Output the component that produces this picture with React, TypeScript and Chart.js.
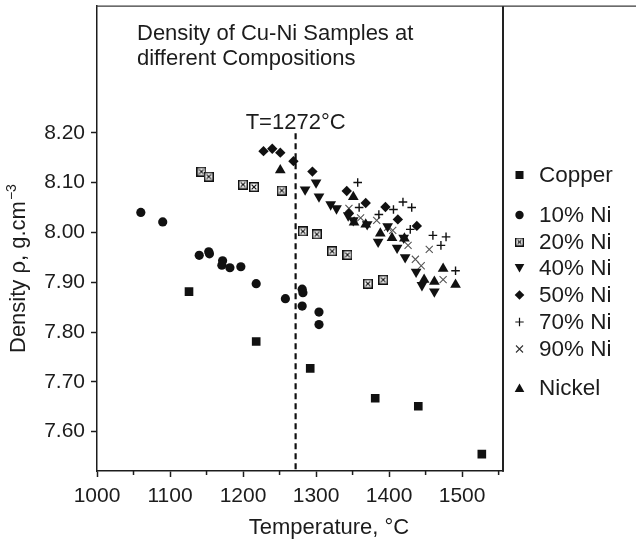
import React, { useEffect, useRef } from 'react';
import { Chart, registerables } from 'chart.js';

Chart.register(...registerables);

const FONT = '"Liberation Sans", Arial, Helvetica, sans-serif';
const INK = '#1c1c1c';

// ---- data (temperature °C, density g/cm3) ----
const copperT = [1126, 1218, 1292, 1381, 1440, 1527];
const copperRho = [7.881, 7.781, 7.727, 7.667, 7.651, 7.555];

const ni10T = [1060, 1090, 1140, 1153, 1154, 1172, 1171, 1182, 1197, 1218, 1258, 1281, 1282, 1281, 1304, 1304];
const ni10Rho = [8.040, 8.021, 7.954, 7.961, 7.957, 7.943, 7.934, 7.929, 7.931, 7.897, 7.867, 7.886, 7.879, 7.852, 7.840, 7.815];

const ni20T = [1143, 1153, 1200, 1215, 1253, 1282, 1301, 1322, 1343, 1371, 1392];
const ni20Rho = [8.122, 8.112, 8.096, 8.091, 8.084, 8.002, 7.996, 7.962, 7.955, 7.897, 7.905];

const ni40T = [1285, 1300, 1304, 1320, 1328, 1344, 1351, 1370, 1385, 1398, 1411, 1420, 1422, 1437, 1445, 1462];
const ni40Rho = [8.086, 8.100, 8.072, 8.056, 8.048, 8.034, 8.024, 8.016, 7.981, 8.012, 7.969, 7.989, 7.950, 7.921, 7.894, 7.881];

const ni50T = [1228, 1240, 1251, 1269, 1295, 1342, 1345, 1368, 1395, 1412, 1438];
const ni50Rho = [8.163, 8.168, 8.160, 8.143, 8.122, 8.083, 8.038, 8.059, 8.051, 8.026, 8.013];

const ni70T = [1357, 1359, 1386, 1406, 1419, 1431, 1429, 1460, 1478, 1471, 1491];
const ni70Rho = [8.100, 8.050, 8.036, 8.046, 8.061, 8.050, 8.006, 7.994, 7.991, 7.974, 7.923];

const ni90T = [1345, 1361, 1383, 1398, 1405, 1426, 1436, 1444, 1455, 1474];
const ni90Rho = [8.048, 8.029, 8.024, 8.010, 8.004, 7.974, 7.946, 7.933, 7.966, 7.905];

const nickelT = [1251, 1351, 1352, 1368, 1388, 1404, 1421, 1448, 1462, 1474, 1491];
const nickelRho = [8.125, 8.071, 8.020, 8.016, 7.998, 7.989, 7.988, 7.905, 7.901, 7.927, 7.895];

const seriesLabels = ['Copper', '10% Ni', '20% Ni', '40% Ni', '50% Ni', '70% Ni', '90% Ni', 'Nickel'];

const xTickValues = [1000, 1050, 1100, 1150, 1200, 1250, 1300, 1350, 1400, 1450, 1500, 1550];
const yTickValues = [7.6, 7.7, 7.8, 7.9, 8.0, 8.1, 8.2];
const X_MIN = 1000;
const X_MAX = 1556;
const Y_MIN = 7.521;
const Y_MAX = 8.454;
const transitionT = 1272;
const transitionLabel = 'T=1272°C';
const titleLines = ['Density of Cu-Ni Samples at', 'different Compositions'];
const xTitle = 'Temperature, °C';
const yTitleMain = 'Density ρ, g.cm';
const yTitleSup = '−3';

const pts = (xs: number[], ys: number[]) => xs.map((x, i) => ({ x, y: ys[i] }));

function makeBoxX(size: number, lw: number): HTMLCanvasElement {
  const c = document.createElement('canvas');
  c.width = size;
  c.height = size;
  const g = c.getContext('2d')!;
  g.fillStyle = '#fff';
  g.fillRect(0, 0, size, size);
  g.strokeStyle = '#111';
  g.lineWidth = lw;
  g.strokeRect(lw / 2, lw / 2, size - lw, size - lw);
  g.lineWidth = 1.2;
  g.beginPath();
  g.moveTo(2.6, 2.6);
  g.lineTo(size - 2.6, size - 2.6);
  g.moveTo(size - 2.6, 2.6);
  g.lineTo(2.6, size - 2.6);
  g.stroke();
  return c;
}

type Kind = 'square' | 'circle' | 'boxx' | 'tdown' | 'diamond' | 'plus' | 'x' | 'tup';
const legendKinds: Kind[] = ['square', 'circle', 'boxx', 'tdown', 'diamond', 'plus', 'x', 'tup'];
const legendRows = [175, 215, 242, 268, 295, 322, 349, 388];

function drawMarker(ctx: CanvasRenderingContext2D, kind: Kind, x: number, y: number, box: HTMLCanvasElement) {
  ctx.save();
  ctx.fillStyle = '#111';
  ctx.strokeStyle = '#111';
  ctx.beginPath();
  switch (kind) {
    case 'square':
      ctx.fillRect(x - 4, y - 4, 8, 8);
      break;
    case 'circle':
      ctx.arc(x, y, 4.2, 0, Math.PI * 2);
      ctx.fill();
      break;
    case 'boxx':
      ctx.drawImage(box, x - box.width / 2, y - box.height / 2);
      break;
    case 'tdown':
      ctx.moveTo(x - 4.8, y - 4);
      ctx.lineTo(x + 4.8, y - 4);
      ctx.lineTo(x, y + 4.4);
      ctx.closePath();
      ctx.fill();
      break;
    case 'tup':
      ctx.moveTo(x - 4.8, y + 4);
      ctx.lineTo(x + 4.8, y + 4);
      ctx.lineTo(x, y - 4.4);
      ctx.closePath();
      ctx.fill();
      break;
    case 'diamond':
      ctx.moveTo(x, y - 4.8);
      ctx.lineTo(x + 4.8, y);
      ctx.lineTo(x, y + 4.8);
      ctx.lineTo(x - 4.8, y);
      ctx.closePath();
      ctx.fill();
      break;
    case 'plus':
      ctx.lineWidth = 1.2;
      ctx.moveTo(x - 4.2, y);
      ctx.lineTo(x + 4.2, y);
      ctx.moveTo(x, y - 4.2);
      ctx.lineTo(x, y + 4.2);
      ctx.stroke();
      break;
    case 'x':
      ctx.lineWidth = 1.1;
      ctx.strokeStyle = '#333';
      ctx.moveTo(x - 3.5, y - 3.5);
      ctx.lineTo(x + 3.5, y + 3.5);
      ctx.moveTo(x + 3.5, y - 3.5);
      ctx.lineTo(x - 3.5, y + 3.5);
      ctx.stroke();
      break;
  }
  ctx.restore();
}

export default function App() {
  const ref = useRef<HTMLCanvasElement | null>(null);

  useEffect(() => {
    document.body.style.margin = '0';
    const canvas = ref.current;
    if (!canvas) return;
    const boxPoint = makeBoxX(10, 1.5);
    const boxLegend = makeBoxX(9, 1.4);

    const decor = {
      id: 'decor',
      afterDraw(chart: any) {
        const { ctx, chartArea: a, scales } = chart;
        const xs = scales.x;
        const ys = scales.y;
        ctx.save();
        // top frame line across the full width
        ctx.strokeStyle = '#3a3a3a';
        ctx.lineWidth = 1.3;
        ctx.beginPath();
        ctx.moveTo(a.left - 0.75, a.top);
        ctx.lineTo(chart.width, a.top);
        ctx.stroke();
        // divider between plot and legend
        ctx.strokeStyle = '#222';
        ctx.lineWidth = 2;
        ctx.beginPath();
        ctx.moveTo(a.right, a.top);
        ctx.lineTo(a.right, a.bottom + 0.75);
        ctx.stroke();
        // minor x ticks
        ctx.lineWidth = 1.5;
        ctx.strokeStyle = INK;
        ctx.beginPath();
        xTickValues.forEach((v) => {
          if (v % 100 !== 0) {
            const px = xs.getPixelForValue(v);
            ctx.moveTo(px, a.bottom);
            ctx.lineTo(px, a.bottom + 4);
          }
        });
        ctx.stroke();

        ctx.fillStyle = INK;
        ctx.textBaseline = 'alphabetic';
        // chart title
        ctx.font = `22px ${FONT}`;
        ctx.textAlign = 'left';
        titleLines.forEach((t, i) => ctx.fillText(t, a.left + 40, a.top + 34 + i * 25));
        // transition label
        ctx.textAlign = 'center';
        ctx.font = `22px ${FONT}`;
        ctx.fillText(transitionLabel, xs.getPixelForValue(transitionT), ys.getPixelForValue(8.2) - 4);
        // x title
        ctx.font = `22px ${FONT}`;
        ctx.fillText(xTitle, a.left + 232, 534);
        // y title (rotated)
        ctx.save();
        ctx.translate(25, 353);
        ctx.rotate(-Math.PI / 2);
        ctx.textAlign = 'left';
        ctx.font = `22px ${FONT}`;
        ctx.fillText(yTitleMain, 0, 0);
        const w = ctx.measureText(yTitleMain).width;
        ctx.font = `14px ${FONT}`;
        ctx.fillText(yTitleSup, w + 1, -9);
        ctx.restore();
        // legend
        ctx.font = `22.5px ${FONT}`;
        ctx.textAlign = 'left';
        ctx.textBaseline = 'middle';
        seriesLabels.forEach((lab, i) => {
          const yy = legendRows[i];
          drawMarker(ctx, legendKinds[i], a.right + 16.5, yy, boxLegend);
          ctx.fillText(lab, a.right + 36, yy + 1);
        });
        ctx.restore();
      },
    };

    const common = { showLine: false, borderColor: '#111', backgroundColor: '#111' };

    const chart = new Chart(canvas, {
      type: 'scatter',
      data: {
        datasets: [
          {
            type: 'line',
            label: 'T',
            data: [
              { x: transitionT, y: 8.199 },
              { x: transitionT, y: Y_MIN },
            ],
            borderColor: '#111',
            borderWidth: 2.2,
            borderDash: [6, 4],
            pointRadius: 0,
            showLine: true,
            fill: false,
          } as any,
          { ...common, label: seriesLabels[0], data: pts(copperT, copperRho), pointStyle: 'rect', pointRadius: 6.1, borderWidth: 0 },
          { ...common, label: seriesLabels[1], data: pts(ni10T, ni10Rho), pointStyle: 'circle', pointRadius: 4.6, borderWidth: 0 },
          { ...common, label: seriesLabels[2], data: pts(ni20T, ni20Rho), pointStyle: boxPoint, pointRadius: 5, borderWidth: 0 },
          { ...common, label: seriesLabels[3], data: pts(ni40T, ni40Rho), pointStyle: 'triangle', rotation: 180, pointRadius: 6.2, borderWidth: 0 },
          { ...common, label: seriesLabels[4], data: pts(ni50T, ni50Rho), pointStyle: 'rectRot', pointRadius: 5.2, borderWidth: 0 },
          { ...common, label: seriesLabels[5], data: pts(ni70T, ni70Rho), pointStyle: 'cross', pointRadius: 4.3, borderWidth: 1.4 },
          { ...common, label: seriesLabels[6], data: pts(ni90T, ni90Rho), pointStyle: 'crossRot', pointRadius: 5, borderWidth: 1.1, borderColor: '#555', backgroundColor: '#555' },
          { ...common, label: seriesLabels[7], data: pts(nickelT, nickelRho), pointStyle: 'triangle', pointRadius: 6.2, borderWidth: 0 },
        ] as any,
      },
      options: {
        animation: false,
        responsive: false,
        devicePixelRatio: 1,
        events: [],
        layout: { padding: { left: 0, right: 133, top: 6, bottom: 0 } },
        plugins: { legend: { display: false }, tooltip: { enabled: false }, title: { display: false } },
        scales: {
          x: {
            type: 'linear',
            min: X_MIN,
            max: X_MAX,
            afterBuildTicks: (s: any) => {
              s.ticks = xTickValues.map((v) => ({ value: v }));
            },
            afterFit: (s: any) => {
              s.height = 68;
              s.paddingLeft = 0;
              s.paddingRight = 0;
            },
            grid: {
              display: true,
              drawOnChartArea: false,
              drawTicks: true,
              tickLength: 6,
              tickWidth: 1.5,
              tickColor: (c: any) => (c.tick && c.tick.value % 100 === 0 ? INK : 'rgba(0,0,0,0)'),
            },
            border: { display: true, color: INK, width: 1.5 },
            ticks: {
              autoSkip: false,
              maxRotation: 0,
              minRotation: 0,
              padding: 7,
              color: INK,
              font: { family: FONT, size: 21 },
              callback: (v: any) => (Number(v) % 100 === 0 ? String(v) : ''),
            },
          },
          y: {
            type: 'linear',
            min: Y_MIN,
            max: Y_MAX,
            afterBuildTicks: (s: any) => {
              s.ticks = yTickValues.map((v) => ({ value: v }));
            },
            afterFit: (s: any) => {
              s.width = 97;
              s.paddingTop = 0;
              s.paddingBottom = 0;
            },
            grid: {
              display: true,
              drawOnChartArea: false,
              drawTicks: true,
              tickLength: 6,
              tickWidth: 1.5,
              tickColor: INK,
            },
            border: { display: true, color: INK, width: 1.5 },
            ticks: {
              autoSkip: false,
              padding: 6,
              color: INK,
              font: { family: FONT, size: 21 },
              callback: (v: any) => Number(v).toFixed(2),
            },
          },
        },
      } as any,
      plugins: [decor],
    });

    return () => chart.destroy();
  }, []);

  return <canvas ref={ref} width={636} height={539} style={{ display: 'block', width: 636, height: 539 }} />;
}
